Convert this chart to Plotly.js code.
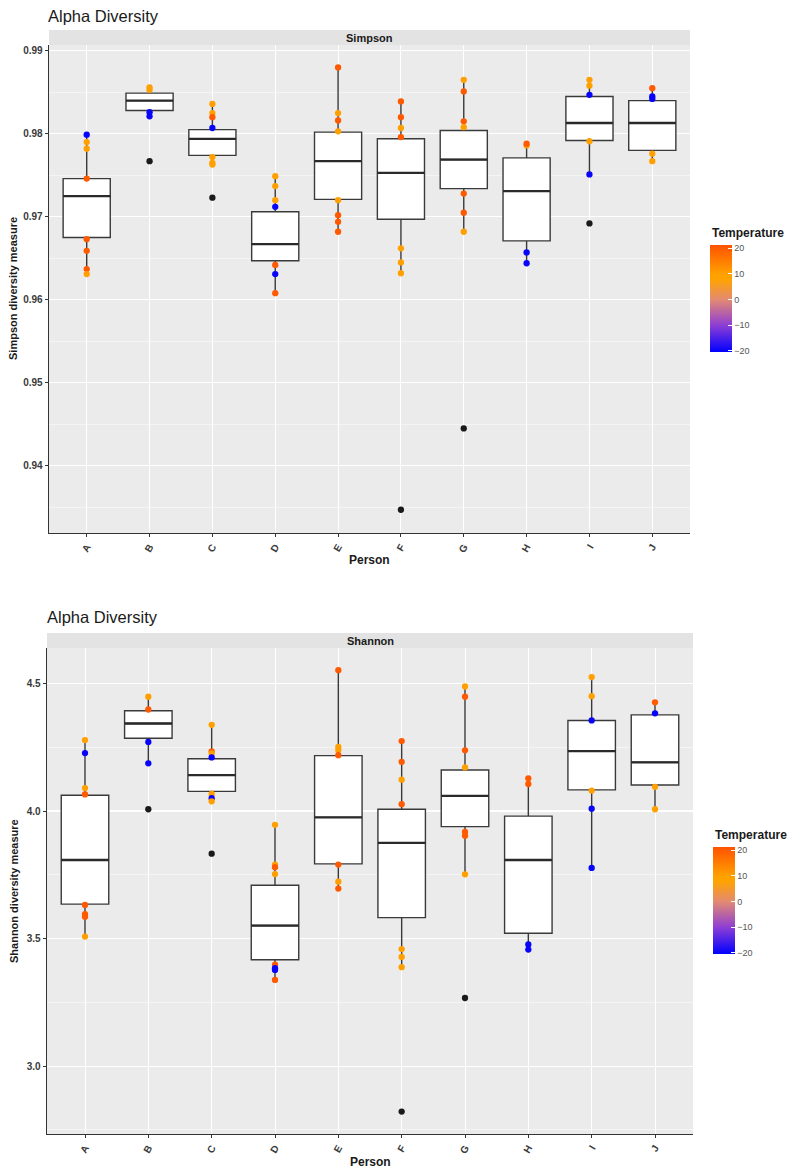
<!DOCTYPE html>
<html>
<head>
<meta charset="utf-8">
<script src="https://cdn.plot.ly/plotly-3.0.1.min.js"></script>
<style>html,body{margin:0;padding:0;background:#fff;}#chart{width:800px;height:1174px;}</style>
</head>
<body>
<div id="chart"></div>
<script>
// ---------- DATA ----------
const persons = ['A','B','C','D','E','F','G','H','I','J'];

// Simpson box statistics
const simpsonQ1     = [0.9675, 0.9828, 0.9774, 0.9647, 0.9721, 0.9697, 0.9734, 0.9671, 0.9792, 0.9780];
const simpsonMedian = [0.9725, 0.9840, 0.9794, 0.9667, 0.9767, 0.9753, 0.9769, 0.9731, 0.9813, 0.9813];
const simpsonQ3     = [0.9746, 0.9849, 0.9805, 0.9706, 0.9802, 0.9794, 0.9804, 0.9771, 0.9845, 0.9840];
const simpsonLower  = [0.9631, 0.9821, 0.9763, 0.9607, 0.9682, 0.9632, 0.9682, 0.9644, 0.9751, 0.9767];
const simpsonUpper  = [0.9799, 0.9856, 0.9836, 0.9749, 0.9880, 0.9839, 0.9865, 0.9788, 0.9865, 0.9855];

// Simpson samples (visible points), coloured by temperature
const simpsonPtPerson = ['A','A','A','A','A','A','A','A',
  'B','B','B','B',
  'C','C','C','C','C','C','C',
  'D','D','D','D','D','D','D',
  'E','E','E','E','E','E','E','E',
  'F','F','F','F','F','F','F',
  'G','G','G','G','G','G','G',
  'H','H','H','H',
  'I','I','I','I','I',
  'J','J','J','J','J'];
const simpsonPtValue = [0.9799,0.9790,0.9782,0.9746,0.9673,0.9659,0.9637,0.9631,
  0.9856,0.9853,0.9826,0.9821,
  0.9836,0.9825,0.9820,0.9807,0.9772,0.9765,0.9763,
  0.9749,0.9737,0.9720,0.9712,0.9642,0.9631,0.9608,
  0.9880,0.9825,0.9816,0.9803,0.9720,0.9702,0.9694,0.9682,
  0.9839,0.9820,0.9807,0.9796,0.9662,0.9645,0.9632,
  0.9865,0.9851,0.9815,0.9808,0.9728,0.9705,0.9682,
  0.9786,0.9788,0.9657,0.9644,
  0.9865,0.9858,0.9847,0.9791,0.9751,
  0.9855,0.9845,0.9842,0.9776,0.9767];
const simpsonPtTemp = [-20,10,10,20,20,20,20,10,
  10,10,-20,-20,
  10,10,20,-20,10,10,10,
  10,10,10,-20,20,-20,20,
  20,10,20,10,10,20,20,20,
  20,20,10,20,10,10,10,
  10,20,20,10,20,20,10,
  10,20,-20,-20,
  10,10,-20,10,-20,
  20,-20,-20,10,10];
// Simpson boxplot outliers
const simpsonOutPerson = ['B','C','F','G','I'];
const simpsonOutValue  = [0.9767, 0.9723, 0.9347, 0.9445, 0.9692];

// Shannon box statistics
const shannonQ1     = [3.635, 4.285, 4.077, 3.417, 3.793, 3.582, 3.939, 3.521, 4.083, 4.102];
const shannonMedian = [3.808, 4.343, 4.141, 3.551, 3.975, 3.875, 4.059, 3.808, 4.235, 4.191];
const shannonQ3     = [4.062, 4.393, 4.205, 3.709, 4.217, 4.007, 4.161, 3.980, 4.355, 4.377];
const shannonLower  = [3.508, 4.187, 4.038, 3.338, 3.696, 3.388, 3.752, 3.457, 3.777, 4.007];
const shannonUpper  = [4.278, 4.448, 4.338, 3.946, 4.552, 4.274, 4.488, 4.128, 4.525, 4.426];

// Shannon samples
const shannonPtPerson = ['A','A','A','A','A','A','A','A',
  'B','B','B','B',
  'C','C','C','C','C','C','C',
  'D','D','D','D','D','D','D','D',
  'E','E','E','E','E','E','E',
  'F','F','F','F','F','F','F',
  'G','G','G','G','G','G','G',
  'H','H','H','H',
  'I','I','I','I','I','I',
  'J','J','J','J'];
const shannonPtValue = [4.278,4.227,4.090,4.065,3.632,3.596,3.586,3.508,
  4.448,4.398,4.271,4.187,
  4.338,4.234,4.226,4.210,4.067,4.050,4.038,
  3.946,3.790,3.780,3.753,3.398,3.384,3.377,3.338,
  4.552,4.251,4.239,4.219,3.790,3.723,3.696,
  4.274,4.193,4.123,4.027,3.459,3.428,3.388,
  4.488,4.448,4.238,4.171,3.918,3.903,3.752,
  4.128,4.106,3.477,3.457,
  4.525,4.450,4.355,4.080,4.009,3.777,
  4.426,4.383,4.095,4.007];
const shannonPtTemp = [10,-20,10,20,20,20,20,10,
  10,20,-20,-20,
  10,20,10,-20,10,-20,10,
  10,10,20,10,20,-20,-20,20,
  20,10,10,20,20,10,20,
  20,20,10,20,10,10,10,
  10,20,20,10,20,20,10,
  20,20,-20,-20,
  10,10,-20,10,-20,-20,
  20,-20,10,10];
const shannonOutPerson = ['B','C','F','G'];
const shannonOutValue  = [4.007, 3.833, 2.822, 3.267];

const tempTicks = [-20, -10, 0, 10, 20];

// ---------- STYLE ----------
const W = 800, H = 1174;
const px = v => v / W;
const py = v => 1 - v / H;
const FONT = 'Liberation Sans, Arial, sans-serif';
const tempScale = [
  [0.0, '#0000FF'],
  [0.25, '#8E3ED4'],
  [0.49, '#E38A72'],
  [0.68, '#FFA300'],
  [0.73, '#FFA000'],
  [1.0, '#FF5200']
];
const CMIN = -20.5, CMAX = 21.2;

function boxTrace(xa, ya, q1, med, q3, lo, hi) {
  return {
    type: 'box', xaxis: xa, yaxis: ya, x: persons,
    q1: q1, median: med, q3: q3, lowerfence: lo, upperfence: hi,
    boxpoints: false, fillcolor: '#FFFFFF',
    line: {color: '#3a3a3a', width: 1.4}, whiskerwidth: 0, width: 0.75,
    hoverinfo: 'skip', showlegend: false
  };
}
// thicker median bar (ggplot fatten) drawn as a flat box at the median
function medianTrace(xa, ya, med) {
  return {
    type: 'box', xaxis: xa, yaxis: ya, x: persons,
    q1: med, median: med, q3: med, lowerfence: med, upperfence: med,
    boxpoints: false, fillcolor: 'rgba(0,0,0,0)',
    line: {color: '#2a2a2a', width: 2.3}, whiskerwidth: 0, width: 0.75,
    hoverinfo: 'skip', showlegend: false
  };
}
function ptTrace(xa, ya, xs, ys, cs, cax) {
  return {
    type: 'scatter', mode: 'markers', xaxis: xa, yaxis: ya, x: xs, y: ys,
    marker: {size: 6.3, color: cs, coloraxis: cax, line: {width: 0}},
    hoverinfo: 'skip', showlegend: false
  };
}
function outTrace(xa, ya, xs, ys) {
  return {
    type: 'scatter', mode: 'markers', xaxis: xa, yaxis: ya, x: xs, y: ys,
    marker: {size: 6.3, color: '#1a1a1a'}, hoverinfo: 'skip', showlegend: false
  };
}

const data = [
  boxTrace('x', 'y', simpsonQ1, simpsonMedian, simpsonQ3, simpsonLower, simpsonUpper),
  medianTrace('x', 'y', simpsonMedian),
  ptTrace('x', 'y', simpsonPtPerson, simpsonPtValue, simpsonPtTemp, 'coloraxis'),
  outTrace('x', 'y', simpsonOutPerson, simpsonOutValue),
  boxTrace('x2', 'y2', shannonQ1, shannonMedian, shannonQ3, shannonLower, shannonUpper),
  medianTrace('x2', 'y2', shannonMedian),
  ptTrace('x2', 'y2', shannonPtPerson, shannonPtValue, shannonPtTemp, 'coloraxis2'),
  outTrace('x2', 'y2', shannonOutPerson, shannonOutValue)
];

const tickFont = {family: FONT, size: 10, color: '#3a3a3a', weight: 'bold'};
function xAxis(dom, anchor) {
  return {
    domain: dom, anchor: anchor, type: 'category',
    categoryorder: 'array', categoryarray: persons, range: [-0.6, 9.6],
    showgrid: true, gridcolor: '#FFFFFF', gridwidth: 1, zeroline: false,
    showline: true, linecolor: '#333333', linewidth: 1.3,
    ticks: 'outside', ticklen: 3, tickcolor: '#333333', tickwidth: 1,
    tickangle: -60, tickfont: tickFont, fixedrange: true
  };
}
function yAxis(dom, anchor, range, dtick, fmt, minorTick0, minorDtick) {
  return {
    domain: dom, anchor: anchor, range: range,
    tick0: 0, dtick: dtick, tickformat: fmt,
    showgrid: true, gridcolor: '#FFFFFF', gridwidth: 1.1, zeroline: false,
    minor: {tick0: minorTick0, dtick: minorDtick, showgrid: true, gridcolor: '#FFFFFF', gridwidth: 0.5, ticks: ''},
    showline: true, linecolor: '#333333', linewidth: 1.3,
    ticks: 'outside', ticklen: 3, tickcolor: '#333333', tickwidth: 1,
    tickfont: tickFont, fixedrange: true
  };
}
function cbar(xLeft, yTopBar, yBotBar) {
  return {
    x: px(xLeft), xanchor: 'left', y: py((yTopBar + yBotBar) / 2), yanchor: 'middle',
    len: yBotBar - yTopBar, lenmode: 'pixels', thickness: 22, thicknessmode: 'pixels',
    xpad: 0, ypad: 0, outlinewidth: 0, tickvals: tempTicks,
    ticks: 'inside', ticklen: 4, tickcolor: '#FFFFFF', tickwidth: 1,
    tickfont: {family: FONT, size: 9, color: '#555555'}
  };
}

const layout = {
  width: W, height: H,
  margin: {l: 0, r: 0, t: 0, b: 0},
  paper_bgcolor: '#FFFFFF', plot_bgcolor: '#EBEBEB',
  font: {family: FONT, color: '#222'},
  hovermode: false, showlegend: false,
  title: {text: 'Alpha Diversity', x: px(48), xanchor: 'left', y: py(16), yanchor: 'middle',
          font: {family: FONT, size: 16.5, color: '#1a1a1a'}},
  xaxis: xAxis([px(49), px(690)], 'y'),
  yaxis: yAxis([py(533), py(45)], 'x', [0.9319, 0.9907], 0.01, '.2f', 0.935, 0.01),
  xaxis2: xAxis([px(47), px(693)], 'y2'),
  yaxis2: yAxis([py(1134), py(648)], 'x2', [2.734, 4.639], 0.5, '.1f', 2.75, 0.5),
  coloraxis: {cmin: CMIN, cmax: CMAX, colorscale: tempScale, colorbar: cbar(710, 245, 352)},
  coloraxis2: {cmin: CMIN, cmax: CMAX, colorscale: tempScale, colorbar: cbar(713, 847, 954)},
  shapes: [
    {type: 'rect', xref: 'paper', yref: 'paper', x0: px(49), x1: px(690), y0: py(45), y1: py(30),
     fillcolor: '#E3E3E3', line: {width: 0}, layer: 'below'},
    {type: 'rect', xref: 'paper', yref: 'paper', x0: px(47), x1: px(693), y0: py(648), y1: py(633),
     fillcolor: '#E3E3E3', line: {width: 0}, layer: 'below'}
  ],
  annotations: [
    {text: 'Simpson', xref: 'paper', yref: 'paper', x: px(369.5), y: py(37.5), showarrow: false,
     xanchor: 'center', yanchor: 'middle', font: {family: FONT, size: 11, color: '#1a1a1a', weight: 'bold'}},
    {text: 'Shannon', xref: 'paper', yref: 'paper', x: px(370), y: py(640.5), showarrow: false,
     xanchor: 'center', yanchor: 'middle', font: {family: FONT, size: 11, color: '#1a1a1a', weight: 'bold'}},
    {text: 'Alpha Diversity', xref: 'paper', yref: 'paper', x: px(45), y: py(617), showarrow: false,
     xanchor: 'left', yanchor: 'middle', font: {family: FONT, size: 16.5, color: '#1a1a1a'}},
    {text: 'Simpson diversity measure', xref: 'paper', yref: 'paper', x: px(13), y: py(289), showarrow: false,
     textangle: -90, xanchor: 'center', yanchor: 'middle', font: {family: FONT, size: 11, color: '#1a1a1a', weight: 'bold'}},
    {text: 'Shannon diversity measure', xref: 'paper', yref: 'paper', x: px(14), y: py(891), showarrow: false,
     textangle: -90, xanchor: 'center', yanchor: 'middle', font: {family: FONT, size: 11, color: '#1a1a1a', weight: 'bold'}},
    {text: 'Person', xref: 'paper', yref: 'paper', x: px(369), y: py(560), showarrow: false,
     xanchor: 'center', yanchor: 'middle', font: {family: FONT, size: 12, color: '#1a1a1a', weight: 'bold'}},
    {text: 'Person', xref: 'paper', yref: 'paper', x: px(370), y: py(1162), showarrow: false,
     xanchor: 'center', yanchor: 'middle', font: {family: FONT, size: 12, color: '#1a1a1a', weight: 'bold'}},
    {text: 'Temperature', xref: 'paper', yref: 'paper', x: px(710), y: py(233), showarrow: false,
     xanchor: 'left', yanchor: 'middle', font: {family: FONT, size: 12, color: '#1a1a1a', weight: 'bold'}},
    {text: 'Temperature', xref: 'paper', yref: 'paper', x: px(713), y: py(835), showarrow: false,
     xanchor: 'left', yanchor: 'middle', font: {family: FONT, size: 12, color: '#1a1a1a', weight: 'bold'}}
  ]
};

Plotly.newPlot('chart', data, layout, {displayModeBar: false, staticPlot: true});
</script>
</body>
</html>
